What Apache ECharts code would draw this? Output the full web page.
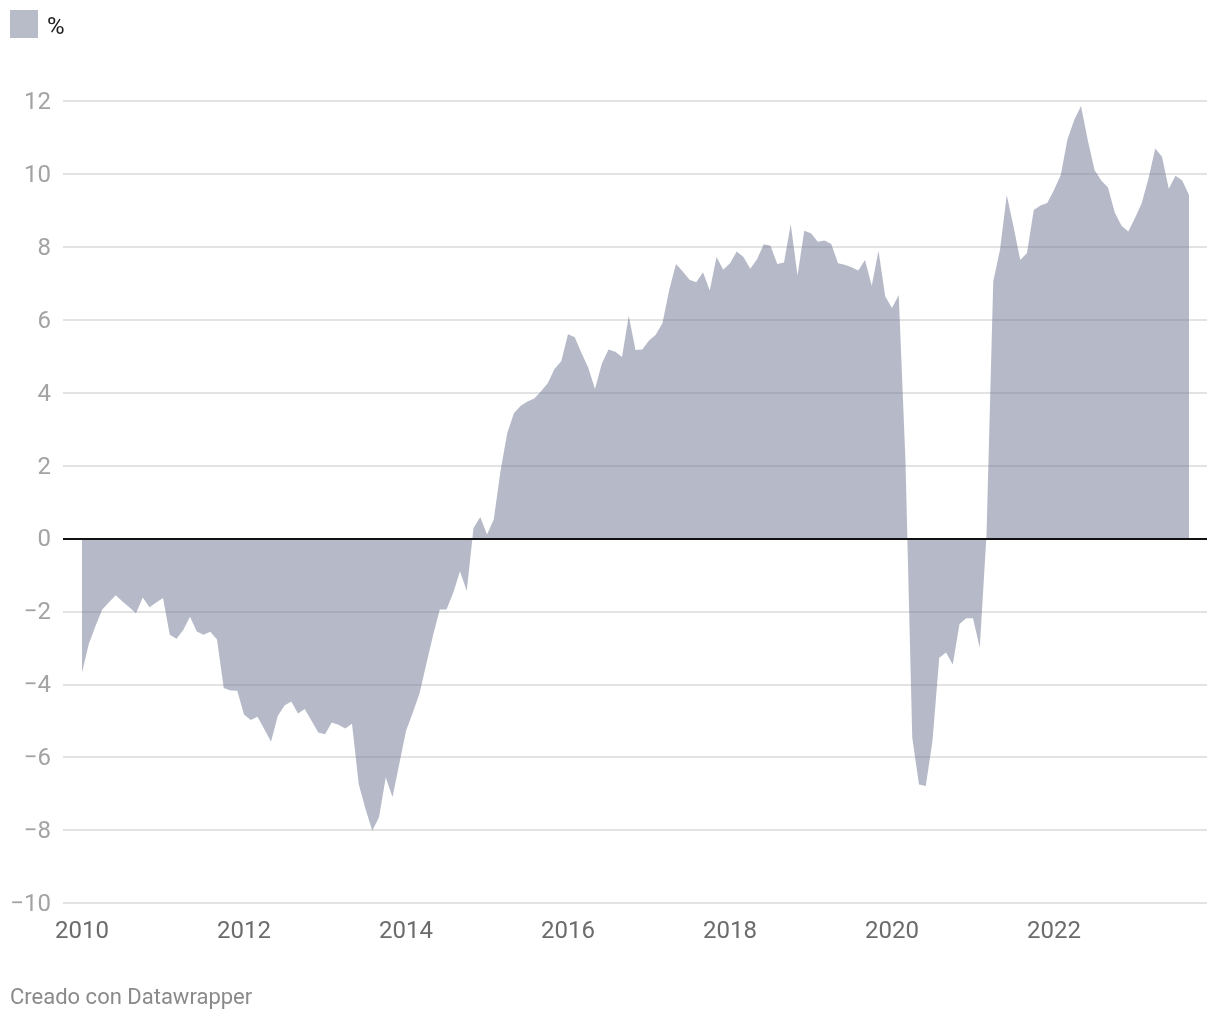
<!DOCTYPE html>
<html>
<head>
<meta charset="utf-8">
<script src="https://cdn.jsdelivr.net/npm/echarts@6/dist/echarts.min.js"></script>
<style>
html,body{margin:0;padding:0;background:#fff;}
#chart{width:1220px;height:1020px;}
</style>
</head>
<body>
<div id="chart"></div>
<script>
// Monthly series starting January 2010
var startYear = 2010;
var startMonth = 1;
var seriesName = '%';
var values = [
  -3.68, -2.90, -2.40, -1.95, -1.75, -1.56, -1.73, -1.89, -2.05, -1.62, -1.89, -1.76,
  -1.63, -2.64, -2.75, -2.51, -2.15, -2.55, -2.64, -2.56, -2.77, -4.10, -4.17, -4.18,
  -4.83, -4.98, -4.89, -5.23, -5.58, -4.87, -4.58, -4.47, -4.80, -4.68, -5.00, -5.32,
  -5.37, -5.05, -5.11, -5.21, -5.08, -6.74, -7.42, -8.02, -7.65, -6.56, -7.09, -6.19,
  -5.28, -4.78, -4.25, -3.45, -2.66, -1.95, -1.95, -1.49, -0.90, -1.44, 0.29, 0.59,
  0.11, 0.52, 1.85, 2.89, 3.44, 3.64, 3.76, 3.84, 4.04, 4.26, 4.65, 4.86,
  5.60, 5.52, 5.09, 4.68, 4.10, 4.79, 5.18, 5.12, 4.98, 6.11, 5.17, 5.18,
  5.43, 5.59, 5.91, 6.82, 7.53, 7.32, 7.10, 7.03, 7.30, 6.80, 7.72, 7.37,
  7.55, 7.87, 7.72, 7.40, 7.66, 8.07, 8.03, 7.53, 7.57, 8.62, 7.21, 8.44,
  8.37, 8.14, 8.17, 8.08, 7.55, 7.51, 7.44, 7.35, 7.64, 6.93, 7.89, 6.64,
  6.32, 6.68, 2.10, -5.47, -6.75, -6.79, -5.55, -3.27, -3.13, -3.46, -2.35, -2.19,
  -2.19, -3.00, 0.10, 7.05, 7.92, 9.42, 8.56, 7.64, 7.83, 9.01, 9.13, 9.20,
  9.56, 9.97, 10.95, 11.48, 11.86, 10.93, 10.11, 9.82, 9.63, 8.94, 8.58, 8.42,
  8.79, 9.20, 9.88, 10.70, 10.47, 9.59, 9.95, 9.82, 9.42
];
var xTickYears = [2010, 2012, 2014, 2016, 2018, 2020, 2022];
var yTicks = [-10, -8, -6, -4, -2, 0, 2, 4, 6, 8, 10, 12];
var footerText = 'Creado con Datawrapper';

var points = values.map(function (v, i) {
  return [startYear + (startMonth - 1 + i) / 12, v];
});

var FONT = 'Roboto, "Noto Sans", sans-serif';
var chart = echarts.init(document.getElementById('chart'), null, {renderer: 'canvas'});

var option = {
  animation: false,
  backgroundColor: '#ffffff',
  textStyle: {fontFamily: FONT},
  grid: {left: 63, right: 13, top: 101, bottom: 117},
  legend: {
    show: true,
    left: 10,
    top: 10,
    padding: 0,
    icon: 'rect',
    itemWidth: 28,
    itemHeight: 28,
    itemStyle: {color: '#b8bcc9', opacity: 1, borderWidth: 0},
    formatter: function (name) { return '{t|' + name + '}'; },
    textStyle: {
      fontFamily: FONT, fontSize: 24, color: '#1a1a1a',
      rich: {t: {fontFamily: FONT, fontSize: 24, color: '#1a1a1a', padding: [8, 0, 0, 4]}}
    },
    data: [seriesName]
  },
  xAxis: {
    type: 'value',
    min: 2010 - 19 / 81,
    max: 2010 + 1125 / 81,
    axisLine: {show: false},
    axisTick: {show: false},
    splitLine: {show: false},
    axisLabel: {
      customValues: xTickYears,
      margin: 17,
      fontFamily: FONT,
      fontSize: 24,
      color: '#6b6b6b',
      formatter: function (v) { return String(Math.round(v)); }
    }
  },
  yAxis: {
    type: 'value',
    min: yTicks[0],
    max: yTicks[yTicks.length - 1],
    interval: 2,
    axisLine: {show: false},
    axisTick: {show: false},
    splitLine: {lineStyle: {color: '#e3e3e3', width: 2}},
    axisLabel: {
      margin: 12,
      fontFamily: FONT,
      fontSize: 24,
      color: '#a3a3a3',
      formatter: function (v) { return '{y|' + String(v).replace('-', '\u2212') + '}'; },
      rich: {y: {fontFamily: FONT, fontSize: 24, color: '#a3a3a3', padding: [4, 0, 0, 0]}}
    }
  },
  graphic: [{
    type: 'text',
    left: 10,
    top: 987,
    style: {text: footerText, font: '22px ' + FONT, fill: '#8a8a8a'}
  }],
  series: [{
    name: seriesName,
    type: 'line',
    data: points,
    showSymbol: false,
    symbol: 'none',
    color: '#b8bcc9',
    lineStyle: {width: 0, opacity: 0},
    areaStyle: {color: 'rgba(110,117,145,0.5)', opacity: 1, origin: 'auto'},
    markLine: {
      silent: true,
      symbol: 'none',
      label: {show: false},
      lineStyle: {color: '#111111', width: 2, type: 'solid'},
      data: [{yAxis: 0}]
    }
  }]
};
chart.setOption(option);
</script>
</body>
</html>
